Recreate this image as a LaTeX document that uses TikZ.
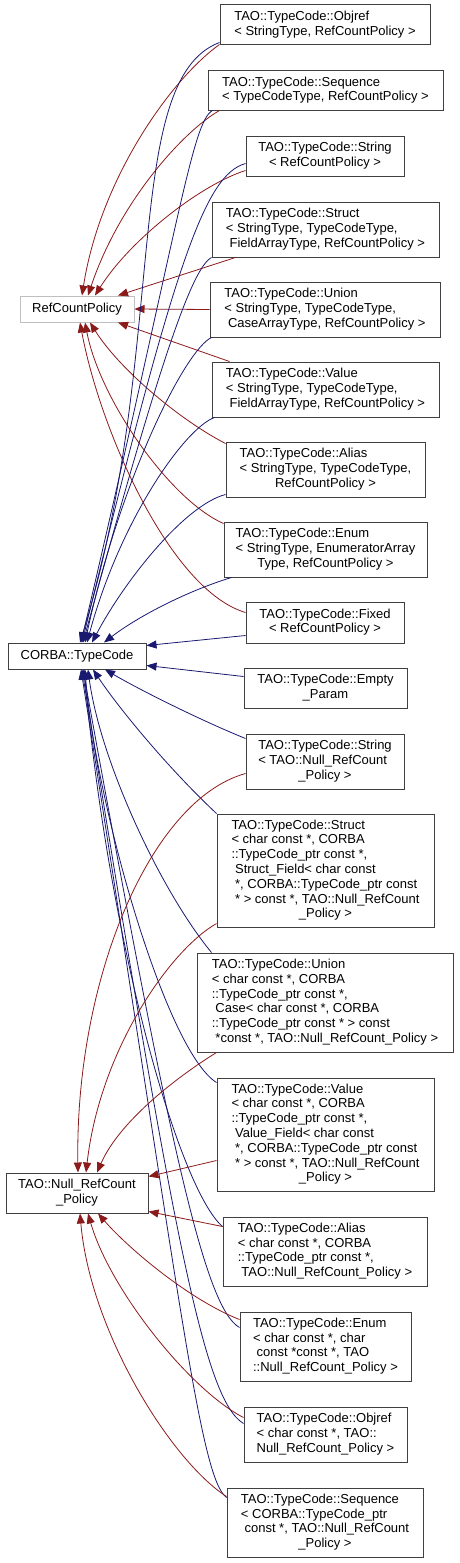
\documentclass[tikz,border=0pt]{standalone}
\usepackage{fontspec}
\setmainfont{Liberation Sans}
\usetikzlibrary{arrows.meta}
\definecolor{edgeblue}{HTML}{191970}
\definecolor{edgered}{HTML}{8B1A1A}
\definecolor{lightframe}{HTML}{BFBFBF}
\newcommand{\ml}[2]{\begin{tabular}{@{}l@{}}#1\\\multicolumn{1}{@{}c@{}}{#2}\end{tabular}}
\tikzset{
  cls/.style={draw=black!75, line width=1pt, fill=white, inner sep=0pt, align=center,
    font=\fontsize{13}{14.8}\selectfont},
  grayframe/.style={cls, draw=lightframe},
  blueedge/.style={draw=edgeblue, line width=0.8pt, -{Triangle[length=10pt,width=8pt,fill=edgeblue]}},
  rededge/.style={draw=edgered, line width=0.8pt, -{Triangle[length=10pt,width=8pt,fill=edgered]}}
}
\begin{document}
\begin{tikzpicture}[x=1pt,y=-1pt]
\useasboundingbox (0,0) rectangle (459,1563);
% base classes
\node[grayframe, minimum width=114pt, minimum height=26pt] (rcp) at (77,309) {RefCountPolicy};
\node[cls, minimum width=138pt, minimum height=26pt] (corba) at (77,656) {CORBA::TypeCode};
\node[cls, minimum width=142pt, minimum height=40pt] (null) at (77,1193) {\ml{TAO::Null\_RefCount}{\_Policy}};
% derived classes
\node[cls, minimum width=210pt, minimum height=40pt] (objrefA) at (325,25) {\ml{TAO::TypeCode::Objref}{< StringType, RefCountPolicy >}};
\node[cls, minimum width=235pt, minimum height=39pt] (seqA) at (325.5,90.5) {\ml{TAO::TypeCode::Sequence}{< TypeCodeType, RefCountPolicy >}};
\node[cls, minimum width=158pt, minimum height=40pt] (stringA) at (325,156) {\ml{TAO::TypeCode::String}{< RefCountPolicy >}};
\node[cls, minimum width=227pt, minimum height=55pt] (structA) at (325.5,229.5) {\ml{TAO::TypeCode::Struct\\< StringType, TypeCodeType,}{\ FieldArrayType, RefCountPolicy >}};
\node[cls, minimum width=230pt, minimum height=55pt] (unionA) at (325,309.5) {\ml{TAO::TypeCode::Union\\< StringType, TypeCodeType,}{\ CaseArrayType, RefCountPolicy >}};
\node[cls, minimum width=227pt, minimum height=55pt] (valueA) at (325.5,389.5) {\ml{TAO::TypeCode::Value\\< StringType, TypeCodeType,}{\ FieldArrayType, RefCountPolicy >}};
\node[cls, minimum width=199pt, minimum height=55pt] (aliasA) at (325.5,469.5) {\ml{TAO::TypeCode::Alias\\< StringType, TypeCodeType,}{RefCountPolicy >}};
\node[cls, minimum width=203pt, minimum height=55pt] (enumA) at (325.5,549.5) {\ml{TAO::TypeCode::Enum\\< StringType, EnumeratorArray}{Type, RefCountPolicy >}};
\node[cls, minimum width=158pt, minimum height=41pt] (fixedA) at (325,622.5) {\ml{TAO::TypeCode::Fixed}{< RefCountPolicy >}};
\node[cls, minimum width=163pt, minimum height=40pt] (empty) at (325.5,688) {\ml{TAO::TypeCode::Empty}{\_Param}};
\node[cls, minimum width=158pt, minimum height=55pt] (stringB) at (325,761.5) {\ml{TAO::TypeCode::String\\< TAO::Null\_RefCount}{\_Policy >}};
\node[cls, minimum width=217pt, minimum height=113pt] (structB) at (325.5,870.5) {\ml{TAO::TypeCode::Struct\\< char const *, CORBA\\::TypeCode\_ptr const *,\\\ Struct\_Field< char const\\\ *, CORBA::TypeCode\_ptr const\\\ * > const *, TAO::Null\_RefCount}{\_Policy >}};
\node[cls, minimum width=256pt, minimum height=99pt] (unionB) at (325,1002.5) {\ml{TAO::TypeCode::Union\\< char const *, CORBA\\::TypeCode\_ptr const *,\\\ Case< char const *, CORBA\\::TypeCode\_ptr const * > const}{\ *const *, TAO::Null\_RefCount\_Policy >}};
\node[cls, minimum width=217pt, minimum height=113pt] (valueB) at (325.5,1134.5) {\ml{TAO::TypeCode::Value\\< char const *, CORBA\\::TypeCode\_ptr const *,\\\ Value\_Field< char const\\\ *, CORBA::TypeCode\_ptr const\\\ * > const *, TAO::Null\_RefCount}{\_Policy >}};
\node[cls, minimum width=204pt, minimum height=69pt] (aliasB) at (325,1251.5) {\ml{TAO::TypeCode::Alias\\< char const *, CORBA\\::TypeCode\_ptr const *,}{\ TAO::Null\_RefCount\_Policy >}};
\node[cls, minimum width=171pt, minimum height=69pt] (enumB) at (325.5,1346.5) {\ml{TAO::TypeCode::Enum\\< char const *, char\\\ const *const *, TAO}{::Null\_RefCount\_Policy >}};
\node[cls, minimum width=163pt, minimum height=55pt] (objrefB) at (325.5,1434.5) {\ml{TAO::TypeCode::Objref\\< char const *, TAO::}{Null\_RefCount\_Policy >}};
\node[cls, minimum width=196pt, minimum height=69pt] (seqB) at (325,1522.5) {\ml{TAO::TypeCode::Sequence\\< CORBA::TypeCode\_ptr\\\ const *, TAO::Null\_RefCount}{\_Policy >}};
% red edges to RefCountPolicy
\draw[rededge] ([yshift=1pt]objrefA.south west) .. controls (170,80) and (100,180) .. ([xshift=5pt]rcp.north);
\draw[rededge] ([xshift=12pt]seqA.south west) .. controls (185,130) and (120,200) .. ([xshift=11pt]rcp.north);
\draw[rededge] ([yshift=6pt]stringA.south west) .. controls (200,185) and (130,240) .. ([xshift=18pt]rcp.north);
\draw[rededge] ([xshift=24pt]structA.south west) -- ([xshift=41pt]rcp.north);
\draw[rededge] (unionA.west) -- (rcp.east);
\draw[rededge] ([xshift=18pt]valueA.north west) -- ([xshift=41pt]rcp.south);
\draw[rededge] ([yshift=-2pt]aliasA.north west) .. controls (180,420) and (120,370) .. ([xshift=13pt]rcp.south);
\draw[rededge] ([yshift=-2pt]enumA.north west) .. controls (170,500) and (100,400) .. ([xshift=8pt]rcp.south);
\draw[rededge] ([yshift=-11pt]fixedA.north west) .. controls (170,590) and (100,430) .. ([xshift=3pt]rcp.south);
% blue edges to CORBA::TypeCode
\draw[blueedge] ([yshift=3pt]objrefA.south west) .. controls (120,80) and (170,350) .. ([xshift=3pt]corba.north);
\draw[blueedge] ([xshift=5pt]seqA.south west) .. controls (192,122) and (180,220) .. ([xshift=4pt]corba.north);
\draw[blueedge] ([yshift=13pt]stringA.south west) .. controls (205,175) and (175,260) .. ([xshift=5pt]corba.north);
\draw[blueedge] (structA.south west) .. controls (192,268) and (160,360) .. ([xshift=6pt]corba.north);
\draw[blueedge] ([xshift=2pt]unionA.south west) .. controls (185,350) and (120,480) .. ([xshift=8pt]corba.north);
\draw[blueedge] ([xshift=3pt]valueA.south west) .. controls (185,428) and (120,520) .. ([xshift=10pt]corba.north);
\draw[blueedge] ([yshift=3pt]aliasA.south west) .. controls (185,505) and (125,580) .. ([xshift=15pt]corba.north);
\draw[blueedge] ([xshift=8pt]enumA.south west) .. controls (190,590) and (140,615) .. ([xshift=27pt]corba.north);
\draw[blueedge] ([yshift=8pt]fixedA.south west) -- ([yshift=-3pt]corba.north east);
\draw[blueedge] ([yshift=-9pt]empty.north west) -- ([yshift=4pt]corba.south east);
\draw[blueedge] ([yshift=-5pt]stringB.north west) .. controls (200,720) and (140,690) .. ([xshift=28pt]corba.south);
\draw[blueedge] (structB.north west) .. controls (170,770) and (120,710) .. ([xshift=16pt]corba.south);
\draw[blueedge] ([xshift=15pt]unionB.north west) .. controls (160,890) and (100,760) .. ([xshift=11pt]corba.south);
\draw[blueedge] ([yshift=-5pt]valueB.north west) .. controls (165,1050) and (95,800) .. ([xshift=8pt]corba.south);
\draw[blueedge] ([yshift=-10pt]aliasB.north west) .. controls (180,1190) and (110,950) .. ([xshift=7pt]corba.south);
\draw[blueedge] ([yshift=-16pt]enumB.north west) .. controls (205,1308) and (170,1150) .. ([xshift=6pt]corba.south);
\draw[blueedge] ([yshift=-17pt]objrefB.north west) .. controls (205,1400) and (175,1250) .. ([xshift=5pt]corba.south);
\draw[blueedge] ([yshift=-10pt]seqB.north west) .. controls (200,1478) and (180,1300) .. ([xshift=4pt]corba.south);
% red edges to TAO::Null_RefCount_Policy
\draw[rededge] ([yshift=16pt]stringB.south west) .. controls (150,800) and (75,980) .. ([xshift=1pt]null.north);
\draw[rededge] ([yshift=4pt]structB.south west) .. controls (170,950) and (100,1050) .. ([xshift=9pt]null.north);
\draw[rededge] ([xshift=20pt]unionB.south west) .. controls (180,1075) and (120,1120) .. ([xshift=20pt]null.north);
\draw[rededge] ([yshift=31pt]valueB.south west) -- ([yshift=-4pt]null.north east);
\draw[rededge] ([yshift=-10pt]aliasB.north west) -- ([yshift=2pt]null.south east);
\draw[rededge] ([yshift=-8pt]enumB.north west) .. controls (190,1300) and (130,1250) .. ([xshift=21pt]null.south);
\draw[rededge] ([yshift=-11pt]objrefB.north west) .. controls (190,1390) and (110,1290) .. ([xshift=11pt]null.south);
\draw[rededge] ([yshift=-9pt]seqB.north west) .. controls (170,1460) and (90,1330) .. ([xshift=3pt]null.south);
\end{tikzpicture}
\end{document}
